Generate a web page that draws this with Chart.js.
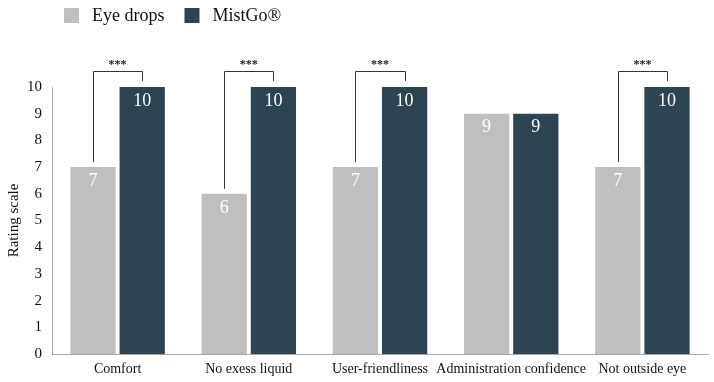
<!DOCTYPE html>
<html><head><meta charset="utf-8">
<script src="https://cdn.jsdelivr.net/npm/chart.js@4.4.0/dist/chart.umd.min.js"></script>
<style>html,body{margin:0;padding:0;background:#fff}#wrap{width:714px;height:382px}</style>
</head><body><div id="wrap"><canvas id="c" width="714" height="382"></canvas></div>
<script>
const categories = ["Comfort", "No exess liquid", "User-friendliness", "Administration confidence", "Not outside eye"];
const eyeDrops = [7, 6, 7, 9, 7];
const mistGo = [10, 10, 10, 9, 10];
const significance = ["***", "***", "***", "", "***"];
const seriesNames = ["Eye drops", "MistGo®"];
const yTicks = [0,1,2,3,4,5,6,7,8,9,10];

const FONT = "'Liberation Serif', 'DejaVu Serif', serif";
const colors = ["#bfbfbf", "#2d4452"];

const customPlugin = {
  id: 'custom',
  afterDatasetsDraw(chart) {
    const ctx = chart.ctx;
    ctx.save();
    ctx.font = "18px " + FONT;
    ctx.fillStyle = "#ffffff";
    ctx.textAlign = "center";
    ctx.textBaseline = "middle";
    chart.data.datasets.forEach((ds, di) => {
      const meta = chart.getDatasetMeta(di);
      meta.data.forEach((bar, i) => {
        ctx.fillText(String(ds.data[i]), bar.x, bar.y + 14);
      });
    });
    const m0 = chart.getDatasetMeta(0), m1 = chart.getDatasetMeta(1);
    ctx.strokeStyle = "#333";
    ctx.lineWidth = 1;
    significance.forEach((s, i) => {
      if (!s) return;
      const b0 = m0.data[i], b1 = m1.data[i];
      const topY = Math.min(b0.y, b1.y) - 16;
      ctx.beginPath();
      ctx.moveTo(Math.round(b0.x) + 0.5, b0.y - 5);
      ctx.lineTo(Math.round(b0.x) + 0.5, topY + 0.5);
      ctx.lineTo(Math.round(b1.x) + 0.5, topY + 0.5);
      ctx.lineTo(Math.round(b1.x) + 0.5, b1.y - 6);
      ctx.stroke();
      ctx.fillStyle = "#222";
      ctx.font = "bold 12px " + FONT;
      ctx.fillText(s, (b0.x + b1.x) / 2, topY - 6);
    });
    ctx.restore();
  },
  afterDraw(chart) {
    const ctx = chart.ctx;
    ctx.save();
    ctx.font = "18px " + FONT;
    ctx.textBaseline = "middle";
    ctx.textAlign = "left";
    let x = 64;
    const yc = 15;
    seriesNames.forEach((n, i) => {
      ctx.fillStyle = colors[i];
      ctx.fillRect(x, yc - 7, 15, 15);
      ctx.fillStyle = "#111";
      ctx.fillText(n, x + 28, yc + 1);
      x += 28 + ctx.measureText(n).width + 20;
    });
    ctx.restore();
  }
};

new Chart(document.getElementById('c'), {
  type: 'bar',
  data: {
    labels: categories,
    datasets: [
      { label: seriesNames[0], data: eyeDrops, backgroundColor: colors[0] },
      { label: seriesNames[1], data: mistGo, backgroundColor: colors[1] }
    ]
  },
  options: {
    responsive: false,
    animation: false,
    layout: { padding: { top: 87, right: 6, left: 0, bottom: 0 } },
    datasets: { bar: { categoryPercentage: 0.75, barPercentage: 0.92 } },
    plugins: { legend: { display: false }, tooltip: { enabled: false } },
    scales: {
      x: {
        grid: { display: false, drawTicks: false },
        border: { color: '#a6a6a6', width: 1 },
        ticks: { color: '#111', font: { family: FONT, size: 14 }, padding: 7, maxRotation: 0, autoSkip: false },
        afterFit(s) { s.height = 28; }
      },
      y: {
        min: 0, max: 10,
        afterBuildTicks(s) { s.ticks = yTicks.map(v => ({ value: v })); },
        grid: { display: false, drawTicks: false },
        border: { color: '#a6a6a6', width: 1 },
        ticks: { color: '#111', font: { family: FONT, size: 15 }, padding: 10 },
        title: { display: true, text: 'Rating scale', color: '#111', font: { family: FONT, size: 15 }, padding: { top: 5, bottom: 6 } },
        afterFit(s) { s.width = 52; }
      }
    }
  },
  plugins: [customPlugin]
});
</script></body></html>
